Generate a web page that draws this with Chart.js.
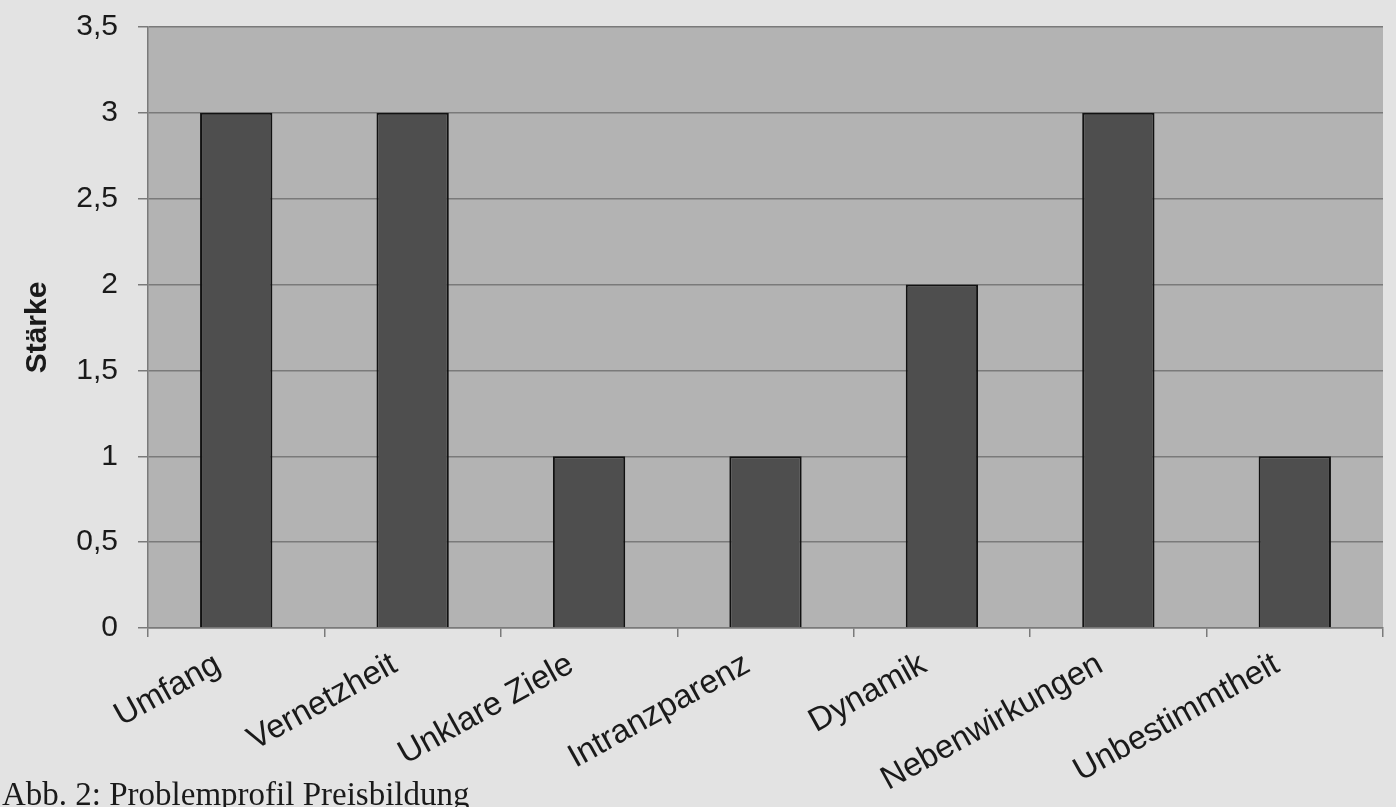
<!DOCTYPE html>
<html>
<head>
<meta charset="utf-8">
<script src="https://cdn.jsdelivr.net/npm/chart.js@4"></script>
<style>
  html, body { margin: 0; padding: 0; background: #e3e3e3; }
  #wrap { position: relative; width: 1396px; height: 807px; overflow: hidden; }
  #caption {
    position: absolute; left: 2px; top: 778px;
    font-family: 'Liberation Serif', 'Times New Roman', serif;
    font-size: 33px; line-height: 33px; color: #1a1a1a; white-space: nowrap;
  }
</style>
</head>
<body>
<div id="wrap">
  <canvas id="chart" width="1396" height="807"></canvas>
  <div id="caption">Abb. 2: Problemprofil Preisbildung</div>
</div>
<script>
// Kategorien und Werte (Stärke)
const categories = ['Umfang', 'Vernetzheit', 'Unklare Ziele', 'Intranzparenz', 'Dynamik', 'Nebenwirkungen', 'Unbestimmtheit'];
const strength = [3, 3, 1, 1, 2, 3, 1];
const yTicks = [0, 0.5, 1, 1.5, 2, 2.5, 3, 3.5];

// grey plot background
const plotBackground = {
  id: 'plotBackground',
  beforeDraw(chart) {
    const { ctx, chartArea: a } = chart;
    ctx.save();
    ctx.fillStyle = '#b3b3b3';
    ctx.fillRect(a.left, a.top, a.right - a.left, a.bottom - a.top);
    ctx.restore();
  }
};

const ctx = document.getElementById('chart').getContext('2d');
new Chart(ctx, {
  type: 'bar',
  data: {
    labels: categories,
    datasets: [{
      label: 'Stärke',
      data: strength,
      backgroundColor: '#4e4e4e',
      borderColor: '#111111',
      borderWidth: 2,
      categoryPercentage: 1,
      barPercentage: 0.41
    }]
  },
  options: {
    responsive: false,
    animation: false,
    layout: { padding: { top: 27, right: 13, left: 0, bottom: 0 } },
    plugins: {
      legend: { display: false },
      tooltip: { enabled: false }
    },
    scales: {
      x: {
        grid: {
          offset: true,
          drawOnChartArea: false,
          drawTicks: true,
          tickLength: 9,
          color: '#7a7a7a',
          lineWidth: 1.5
        },
        border: { display: true, color: '#7a7a7a', width: 1.5 },
        ticks: {
          color: '#1a1a1a',
          maxRotation: 29,
          minRotation: 29,
          padding: 8,
          labelOffset: -18,
          font: { family: "'Liberation Sans', Arial, sans-serif", size: 33 }
        },
        afterFit(scale) { scale.height = 179; }
      },
      y: {
        min: 0,
        max: 3.5,
        afterBuildTicks(scale) { scale.ticks = yTicks.map(v => ({ value: v })); },
        grid: {
          color: '#7a7a7a',
          lineWidth: 1.5,
          drawTicks: true,
          tickLength: 10
        },
        border: { display: true, color: '#7a7a7a', width: 1.5 },
        ticks: {
          color: '#1a1a1a',
          padding: 20,
          font: { family: "'Liberation Sans', Arial, sans-serif", size: 30 },
          callback: v => String(v).replace('.', ',')
        },
        title: {
          display: true,
          text: 'Stärke',
          color: '#1a1a1a',
          padding: { top: 20, bottom: 0 },
          font: { family: "'Liberation Sans', Arial, sans-serif", size: 30, weight: 'bold' }
        },
        afterFit(scale) {
          scale.width = 148;
          scale.paddingTop = 0;
          scale.paddingBottom = 0;
        }
      }
    }
  },
  plugins: [plotBackground]
});
</script>
</body>
</html>
